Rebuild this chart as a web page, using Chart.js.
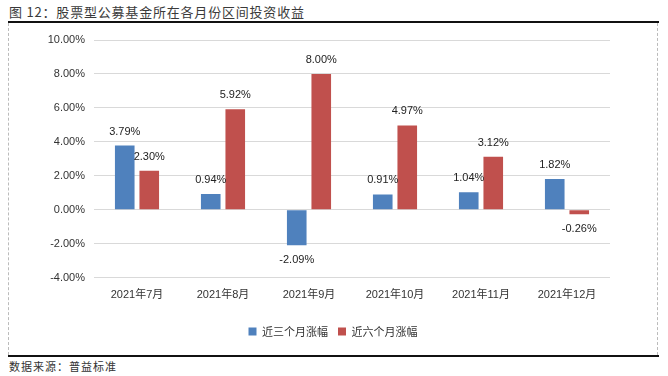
<!DOCTYPE html>
<html><head><meta charset="utf-8">
<script src="https://cdn.jsdelivr.net/npm/chart.js@4/dist/chart.umd.min.js"></script>
<style>
html,body{margin:0;padding:0;background:#fff;width:668px;height:376px;overflow:hidden;font-family:"Noto Sans CJK SC","Liberation Sans",sans-serif;}
#title{position:absolute;left:9px;top:3px;font-size:13px;color:#3a3a3a;letter-spacing:0.8px;line-height:18px;}
#frameTop{position:absolute;left:8px;top:21px;width:651px;height:0;border-top:2px solid #111;}
#frameBot{position:absolute;left:8px;top:355px;width:651px;height:0;border-top:2px solid #111;}
#frameL{position:absolute;left:8px;top:23px;width:0;height:332px;border-left:1px dashed #bbb;}
#frameR{position:absolute;left:657px;top:23px;width:0;height:332px;border-left:1px dashed #bbb;}
#source{position:absolute;left:9px;top:358px;font-size:11px;color:#333;letter-spacing:1px;line-height:16px;}
#wrap{position:absolute;left:9px;top:23px;width:648px;height:332px;}
</style></head>
<body>
<div id="title">图 12：股票型公募基金所在各月份区间投资收益</div>
<div id="frameTop"></div><div id="frameBot"></div><div id="frameL"></div><div id="frameR"></div>
<div id="wrap"><canvas id="c"></canvas></div>
<div id="source">数据来源：普益标准</div>
<script>
const categories = ['2021年7月','2021年8月','2021年9月','2021年10月','2021年11月','2021年12月'];
const seriesNames = ['近三个月涨幅','近六个月涨幅'];
const threeMonth = [3.79, 0.94, -2.09, 0.91, 1.04, 1.82];
const sixMonth = [2.30, 5.92, 8.00, 4.97, 3.12, -0.26];
const yMin = -4, yMax = 10, yStep = 2;

const labelPlugin = {
  id: 'barLabels',
  afterDatasetsDraw(chart) {
    const ctx = chart.ctx;
    ctx.save();
    ctx.font = '11px "Liberation Sans", Arial, sans-serif';
    ctx.fillStyle = '#222';
    ctx.textAlign = 'center';
    ctx.textBaseline = 'middle';
    chart.data.datasets.forEach((ds, i) => {
      const meta = chart.getDatasetMeta(i);
      meta.data.forEach((bar, j) => {
        const v = ds.data[j];
        const y = v >= 0 ? bar.y - 14 : bar.y + 15;
        ctx.fillText(v.toFixed(2) + '%', bar.x, y);
      });
    });
    ctx.restore();
  }
};

new Chart(document.getElementById('c'), {
  type: 'bar',
  data: {
    labels: categories,
    datasets: [
      {label: seriesNames[0], data: threeMonth, backgroundColor: '#4F81BD', categoryPercentage: 0.57, barPercentage: 0.8},
      {label: seriesNames[1], data: sixMonth, backgroundColor: '#C0504D', categoryPercentage: 0.57, barPercentage: 0.8}
    ]
  },
  options: {
    responsive: true,
    maintainAspectRatio: false,
    animation: false,
    layout: {padding: {left: 0, right: 0, top: 17, bottom: 8}},
    plugins: {
      legend: {
        position: 'bottom',
        labels: {boxWidth: 8, boxHeight: 8, padding: 10, color: '#333',
          font: {size: 11, family: '"Noto Sans CJK SC", sans-serif'}}
      },
      tooltip: {enabled: false}
    },
    scales: {
      x: {
        grid: {display: false},
        border: {display: false},
        afterFit(scale) { scale.height += 11; },
        ticks: {color: '#333', padding: 3, font: {size: 11, family: '"Liberation Sans", "Noto Sans CJK SC", sans-serif'}, maxRotation: 0}
      },
      y: {
        min: yMin, max: yMax,
        afterFit(scale) { scale.width = 85; },
        grid: {color: '#d9d9d9', drawTicks: false},
        border: {display: false},
        ticks: {stepSize: yStep, padding: 9, color: '#333',
          font: {size: 11, family: '"Liberation Sans", Arial, sans-serif'},
          callback: v => v.toFixed(2) + '%'}
      },
      yPad: {
        position: 'right',
        min: yMin, max: yMax,
        afterFit(scale) { scale.width = 47; },
        grid: {display: false},
        border: {display: false},
        ticks: {display: false}
      }
    }
  },
  plugins: [labelPlugin]
});
</script>
</body></html>
